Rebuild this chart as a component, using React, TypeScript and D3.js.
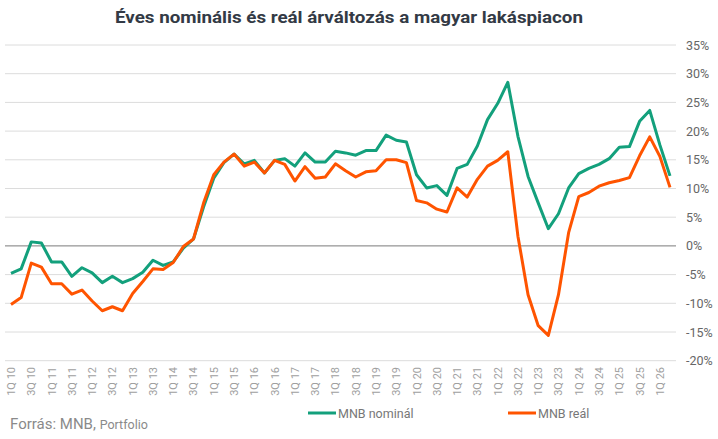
import * as React from 'react';
import * as d3 from 'd3';

const quarters = [
  '1Q 10', '2Q 10', '3Q 10', '4Q 10', '1Q 11', '2Q 11', '3Q 11', '4Q 11',
  '1Q 12', '2Q 12', '3Q 12', '4Q 12', '1Q 13', '2Q 13', '3Q 13', '4Q 13',
  '1Q 14', '2Q 14', '3Q 14', '4Q 14', '1Q 15', '2Q 15', '3Q 15', '4Q 15',
  '1Q 16', '2Q 16', '3Q 16', '4Q 16', '1Q 17', '2Q 17', '3Q 17', '4Q 17',
  '1Q 18', '2Q 18', '3Q 18', '4Q 18', '1Q 19', '2Q 19', '3Q 19', '4Q 19',
  '1Q 20', '2Q 20', '3Q 20', '4Q 20', '1Q 21', '2Q 21', '3Q 21', '4Q 21',
  '1Q 22', '2Q 22', '3Q 22', '4Q 22', '1Q 23', '2Q 23', '3Q 23', '4Q 23',
  '1Q 24', '2Q 24', '3Q 24', '4Q 24', '1Q 25', '2Q 25', '3Q 25', '4Q 25',
  '1Q 26', '2Q 26'
];

const nominal = [
  -4.8, -4.0, 0.7, 0.5, -2.8, -2.8, -5.3, -3.8, -4.7, -6.4, -5.3, -6.4,
  -5.7, -4.6, -2.5, -3.4, -2.8, -0.4, 1.2, 6.8, 11.8, 14.5, 16.0, 14.3,
  14.9, 12.7, 14.9, 15.2, 13.9, 16.2, 14.6, 14.6, 16.5, 16.2, 15.8, 16.6,
  16.6, 19.3, 18.4, 18.1, 12.4, 10.1, 10.5, 8.8, 13.5, 14.2, 17.4, 22.0,
  24.8, 28.5, 19.1, 12.1, 7.5, 3.0, 5.6, 10.1, 12.6, 13.5, 14.2, 15.2,
  17.2, 17.3, 21.7, 23.6, 17.6, 12.2
];

const real = [
  -10.2, -9.0, -3.0, -3.7, -6.6, -6.6, -8.4, -7.7, -9.6, -11.3, -10.6, -11.3,
  -8.3, -6.2, -4.0, -4.1, -2.9, -0.1, 1.2, 7.5, 12.4, 14.6, 16.0, 13.9,
  14.6, 12.7, 14.9, 14.2, 11.3, 13.8, 11.8, 12.0, 14.3, 13.1, 12.0, 12.9,
  13.1, 15.0, 15.0, 14.5, 7.9, 7.5, 6.4, 5.9, 10.1, 8.5, 11.6, 13.9,
  14.9, 16.4, 1.7, -8.5, -13.9, -15.6, -8.5, 2.3, 8.6, 9.3, 10.4, 11.0,
  11.4, 11.9, 15.7, 19.0, 15.6, 10.2
];

const yTicks = [35, 30, 25, 20, 15, 10, 5, 0, -5, -10, -15, -20];

const series = [
  { name: 'MNB nominál', values: nominal, color: '#13a07c' },
  { name: 'MNB reál', values: real, color: '#ff5400' }
];

const W = 718, H = 439;

export default function App() {
  const svgRef = React.useRef<SVGSVGElement>(null);

  React.useEffect(() => {
    const svg = d3.select(svgRef.current);
    svg.selectAll('*').remove();

    const x = d3.scaleLinear().domain([0, quarters.length - 1]).range([11, 670]);
    const y = d3.scaleLinear().domain([-20, 35]).range([360.7, 45]);

    svg.append('rect').attr('width', W).attr('height', H).attr('fill', '#fff');

    // title
    svg.append('text')
      .attr('x', 349)
      .attr('y', 23)
      .attr('text-anchor', 'middle')
      .attr('font-family', 'Roboto, sans-serif')
      .attr('font-weight', 700)
      .attr('font-size', 17)
      .attr('fill', '#333a45')
      .attr('textLength', 468)
      .attr('lengthAdjust', 'spacingAndGlyphs')
      .text('Éves nominális és reál árváltozás a magyar lakáspiacon');

    // grid
    const grid = svg.append('g');
    grid.selectAll('line')
      .data(yTicks)
      .enter()
      .append('line')
      .attr('x1', 5)
      .attr('x2', 676)
      .attr('y1', d => y(d))
      .attr('y2', d => y(d))
      .attr('stroke', d => (d === 0 ? '#7a7a7a' : '#dcdcdc'))
      .attr('stroke-width', 1);

    svg.append('g')
      .selectAll('text')
      .data(yTicks)
      .enter()
      .append('text')
      .attr('x', 686)
      .attr('y', d => y(d) + 4.5)
      .attr('font-family', 'Roboto, sans-serif')
      .attr('font-size', 12.5)
      .attr('fill', '#666')
      .text(d => `${d}%`);

    // x labels, every second quarter
    svg.append('g')
      .selectAll('text')
      .data(quarters.filter((_, i) => i % 2 === 0))
      .enter()
      .append('text')
      .attr('transform', d => `translate(${x(quarters.indexOf(d)) + 4}, 367) rotate(-90)`)
      .attr('text-anchor', 'end')
      .attr('font-family', 'Roboto, sans-serif')
      .attr('font-size', 11)
      .attr('fill', '#a0a0a0')
      .text(d => d);

    // lines
    const line = d3.line<number>()
      .x((_, i) => x(i))
      .y(d => y(d));

    series.forEach(s => {
      svg.append('path')
        .datum(s.values)
        .attr('d', line)
        .attr('fill', 'none')
        .attr('stroke', s.color)
        .attr('stroke-width', 3)
        .attr('stroke-linejoin', 'round');
    });

    // legend
    const legendX = [308, 508];
    series.forEach((s, i) => {
      const g = svg.append('g').attr('transform', `translate(${legendX[i]}, 413)`);
      g.append('line')
        .attr('x1', 0)
        .attr('x2', 28)
        .attr('stroke', s.color)
        .attr('stroke-width', 3);
      g.append('text')
        .attr('x', 30)
        .attr('y', 4.5)
        .attr('font-family', 'Roboto, sans-serif')
        .attr('font-size', 12.5)
        .attr('fill', '#777')
        .text(s.name);
    });

    // source
    const src = svg.append('text')
      .attr('x', 10)
      .attr('y', 429)
      .attr('font-family', 'Roboto, sans-serif')
      .attr('fill', '#8a8a8a');
    src.append('tspan').attr('font-size', 15).text('Forrás: MNB, ');
    src.append('tspan').attr('font-size', 12.5).text('Portfolio');
  }, []);

  return (
    <svg
      ref={svgRef}
      width={W}
      height={H}
      style={{ position: 'absolute', left: 0, top: 0, display: 'block' }}
    />
  );
}
